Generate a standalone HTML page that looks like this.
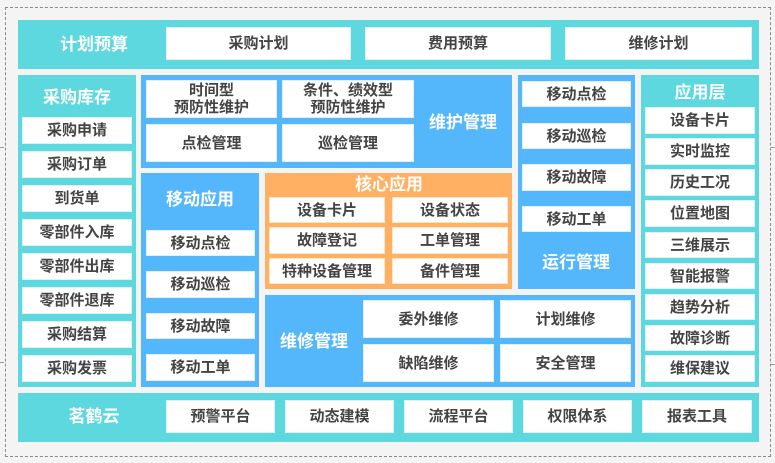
<!DOCTYPE html>
<html><head><meta charset="utf-8"><style>
*{margin:0;padding:0;box-sizing:border-box}
html,body{width:775px;height:463px;overflow:hidden;background:#f4f4f4}
body{position:relative;font-family:"Liberation Sans","Noto Sans CJK SC",sans-serif}
.a{position:absolute}
.dash{position:absolute;left:5px;top:7px;width:766px;height:450px;border:1px dashed #8a8a8a}
.t{background:#5cd8de}
.bl{background:#54b7fb}
.or{background:#ffb062}
.b{position:absolute;background:#fff;border:1px solid #dff1f6;display:flex;align-items:center;justify-content:center;text-align:center;font-weight:bold;font-size:15px;color:#444;line-height:17px;white-space:nowrap}
.h{position:absolute;color:#fff;font-weight:bold;font-size:17px;line-height:20px;text-align:center;white-space:nowrap;transform:translate(-50%,-50%)}
.tick{position:absolute;width:4px;height:1px;background:#999}
</style></head><body>
<div class="dash"></div>
<div class="tick" style="left:0;top:147px"></div>
<div class="tick" style="left:0;top:362px"></div>
<div class="tick" style="left:771px;top:147px"></div>
<div class="tick" style="left:771px;top:364px"></div>

<!-- top band -->
<div class="a t" style="left:18px;top:20px;width:741px;height:49px"></div>
<div class="h" style="left:94px;top:45px">计划预算</div>
<div class="b" style="left:166px;top:27px;width:185px;height:33px">采购计划</div>
<div class="b" style="left:365px;top:27px;width:186px;height:33px">费用预算</div>
<div class="b" style="left:565px;top:27px;width:187px;height:33px">维修计划</div>

<!-- left column -->
<div class="a t" style="left:18px;top:75px;width:118px;height:312px"></div>
<div class="h" style="left:77px;top:98px">采购库存</div>
<div class="b" style="left:22px;top:117px;width:110px;height:27px">采购申请</div>
<div class="b" style="left:22px;top:151px;width:110px;height:27px">采购订单</div>
<div class="b" style="left:22px;top:185px;width:110px;height:27px">到货单</div>
<div class="b" style="left:22px;top:219px;width:110px;height:27px">零部件入库</div>
<div class="b" style="left:22px;top:253px;width:110px;height:27px">零部件出库</div>
<div class="b" style="left:22px;top:287px;width:110px;height:27px">零部件退库</div>
<div class="b" style="left:22px;top:321px;width:110px;height:27px">采购结算</div>
<div class="b" style="left:22px;top:355px;width:110px;height:27px">采购发票</div>

<!-- 维护管理 -->
<div class="a bl" style="left:141px;top:75px;width:371px;height:93px"></div>
<div class="b" style="left:146px;top:80px;width:131px;height:38px">时间型<br>预防性维护</div>
<div class="b" style="left:282px;top:80px;width:132px;height:38px">条件、绩效型<br>预防性维护</div>
<div class="b" style="left:146px;top:124px;width:131px;height:38px">点检管理</div>
<div class="b" style="left:282px;top:124px;width:132px;height:38px">巡检管理</div>
<div class="h" style="left:463px;top:123px">维护管理</div>

<!-- 运行管理 -->
<div class="a bl" style="left:518px;top:75px;width:117px;height:214px"></div>
<div class="b" style="left:522px;top:81px;width:109px;height:26px">移动点检</div>
<div class="b" style="left:522px;top:123px;width:109px;height:26px">移动巡检</div>
<div class="b" style="left:522px;top:164px;width:109px;height:27px">移动故障</div>
<div class="b" style="left:522px;top:206px;width:109px;height:26px">移动工单</div>
<div class="h" style="left:576px;top:263px">运行管理</div>

<!-- 应用层 -->
<div class="a t" style="left:641px;top:75px;width:118px;height:312px"></div>
<div class="h" style="left:700px;top:93px">应用层</div>
<div class="b" style="left:645px;top:107px;width:110px;height:27px">设备卡片</div>
<div class="b" style="left:645px;top:138px;width:110px;height:27px">实时监控</div>
<div class="b" style="left:645px;top:169px;width:110px;height:27px">历史工况</div>
<div class="b" style="left:645px;top:200px;width:110px;height:27px">位置地图</div>
<div class="b" style="left:645px;top:232px;width:110px;height:26px">三维展示</div>
<div class="b" style="left:645px;top:263px;width:110px;height:26px">智能报警</div>
<div class="b" style="left:645px;top:294px;width:110px;height:26px">趋势分析</div>
<div class="b" style="left:645px;top:325px;width:110px;height:26px">故障诊断</div>
<div class="b" style="left:645px;top:355px;width:110px;height:27px">维保建议</div>

<!-- 移动应用 -->
<div class="a bl" style="left:141px;top:173px;width:118px;height:214px"></div>
<div class="h" style="left:200px;top:200px">移动应用</div>
<div class="b" style="left:146px;top:230px;width:109px;height:26px">移动点检</div>
<div class="b" style="left:146px;top:271px;width:109px;height:27px">移动巡检</div>
<div class="b" style="left:146px;top:313px;width:109px;height:26px">移动故障</div>
<div class="b" style="left:146px;top:354px;width:109px;height:27px">移动工单</div>

<!-- 核心应用 -->
<div class="a or" style="left:265px;top:173px;width:247px;height:116px"></div>
<div class="h" style="left:389px;top:185px">核心应用</div>
<div class="b" style="left:269px;top:197px;width:116px;height:26px;border-color:#ffe6cc">设备卡片</div>
<div class="b" style="left:392px;top:197px;width:116px;height:26px;border-color:#ffe6cc">设备状态</div>
<div class="b" style="left:269px;top:227px;width:116px;height:27px;border-color:#ffe6cc">故障登记</div>
<div class="b" style="left:392px;top:227px;width:116px;height:27px;border-color:#ffe6cc">工单管理</div>
<div class="b" style="left:269px;top:258px;width:116px;height:26px;border-color:#ffe6cc">特种设备管理</div>
<div class="b" style="left:392px;top:258px;width:116px;height:26px;border-color:#ffe6cc">备件管理</div>

<!-- 维修管理 -->
<div class="a bl" style="left:265px;top:295px;width:370px;height:92px"></div>
<div class="h" style="left:314px;top:342px">维修管理</div>
<div class="b" style="left:363px;top:300px;width:131px;height:38px">委外维修</div>
<div class="b" style="left:500px;top:300px;width:131px;height:38px">计划维修</div>
<div class="b" style="left:363px;top:344px;width:131px;height:38px">缺陷维修</div>
<div class="b" style="left:500px;top:344px;width:131px;height:38px">安全管理</div>

<!-- bottom band -->
<div class="a t" style="left:18px;top:393px;width:741px;height:49px"></div>
<div class="h" style="left:94px;top:417px">茗鹤云</div>
<div class="b" style="left:166px;top:400px;width:109px;height:33px">预警平台</div>
<div class="b" style="left:285px;top:400px;width:109px;height:33px">动态建模</div>
<div class="b" style="left:404px;top:400px;width:109px;height:33px">流程平台</div>
<div class="b" style="left:523px;top:400px;width:109px;height:33px">权限体系</div>
<div class="b" style="left:642px;top:400px;width:110px;height:33px">报表工具</div>
</body></html>
